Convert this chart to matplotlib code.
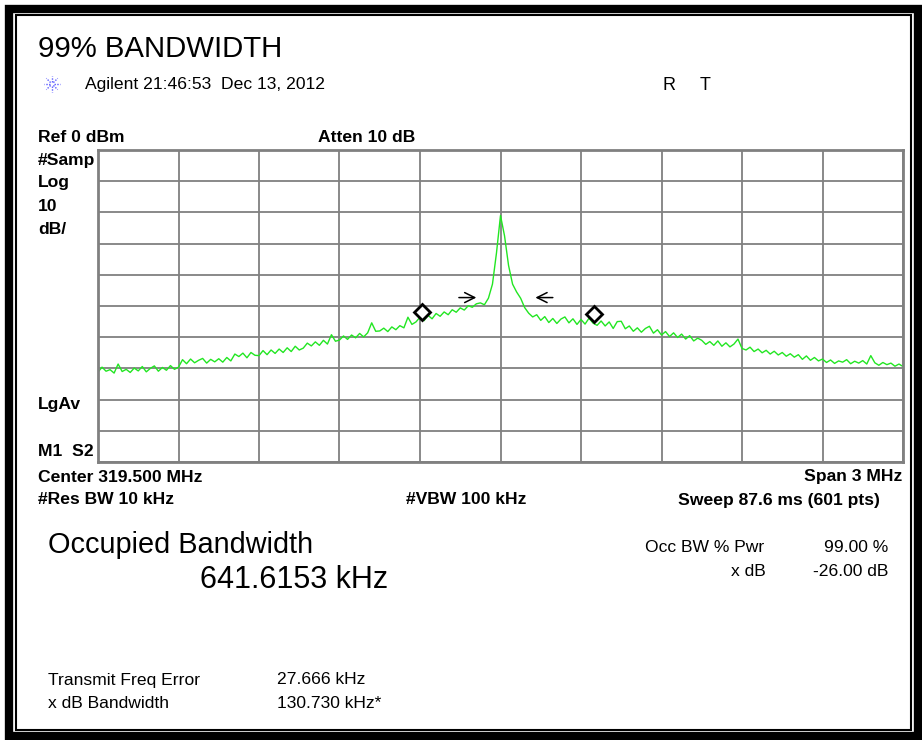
import matplotlib.pyplot as plt
import numpy as np
from matplotlib.patches import Rectangle
from matplotlib.lines import Line2D

# spectrum analyser trace, 201 points (15 kHz apart)
f_start = 318.0   # MHz
f_step = 0.015
level_dbm = [
    -71.2, -69.6, -70.9, -70.4, -71.5, -68.6, -71.0, -70.3, -71.3, -69.9,
    -70.8, -69.4, -71.1, -70.0, -69.2, -70.9, -69.7, -70.6, -69.1, -70.3,
    -69.6, -67.2, -68.5, -67.0, -68.2, -67.4, -66.8, -68.3, -67.1, -67.9,
    -66.9, -68.0, -66.5, -67.6, -65.4, -66.2, -65.1, -66.6, -64.9, -65.8,
    -65.9, -64.3, -65.6, -64.1, -65.2, -63.8, -64.9, -63.4, -64.6, -62.9,
    -64.1, -63.5, -61.9, -62.8, -61.5, -62.6, -61.0, -62.2, -59.2, -61.3,
    -60.9, -59.6, -60.7, -59.3, -60.2, -58.8, -59.9, -58.6, -55.4, -58.1,
    -58.0, -57.1, -58.2, -56.7, -57.6, -56.3, -57.0, -53.6, -55.9, -55.1,
    -53.6, -54.7, -53.0, -54.1, -52.4, -53.3, -51.9, -52.8, -51.2, -52.0,
    -50.6, -51.3, -49.9, -50.4, -49.3, -49.0, -49.6, -47.5, -43.0, -33.0,
    -21.0, -27.5, -37.0, -43.0, -45.5, -47.5, -50.5, -52.3, -53.5, -52.8,
    -54.6, -53.4, -55.3, -54.0, -55.6, -54.2, -53.5, -55.4, -54.1, -55.9,
    -54.3, -55.8, -53.9, -55.5, -56.2, -54.8, -56.4, -55.1, -57.2, -55.0,
    -54.9, -57.3, -56.4, -58.1, -57.0, -58.4, -57.2, -56.5, -58.7, -57.6,
    -59.3, -58.2, -59.8, -58.6, -60.1, -59.0, -60.6, -59.5, -61.2, -60.3,
    -61.0, -62.3, -61.4, -62.6, -61.2, -62.9, -61.8, -63.1, -62.2, -60.6,
    -63.6, -64.1, -63.2, -64.6, -63.8, -65.0, -64.2, -65.4, -64.5, -65.7,
    -64.9, -66.1, -65.3, -66.4, -65.6, -67.1, -66.0, -67.4, -66.5, -67.6,
    -67.0, -68.1, -67.3, -68.4, -67.6, -68.0, -67.2, -68.5, -67.7, -68.3,
    -67.5, -68.6, -65.9, -68.2, -69.0, -68.1, -68.8, -68.3, -69.3, -68.6,
    -69.4,
]
freq_mhz = f_start + f_step * np.arange(len(level_dbm))

# occupied bandwidth markers (diamonds) and x dB arrows
obw_freq = [319.207, 319.848]
obw_level = [-52.0, -52.7]
arrow_level = -47.3
arrow_right = (319.345, 319.410)   # from, tip
arrow_left = (319.695, 319.630)

W, H = 922, 740
fig = plt.figure(figsize=(W / 100, H / 100), dpi=100)
fig.patch.set_facecolor("white")


def fx(x):
    return x / W


def fy(y):
    return 1 - y / H


# double black border
fig.add_artist(Rectangle((fx(9), fy(736)), fx(918) - fx(9), fy(9) - fy(736),
                         transform=fig.transFigure, fill=False, ec="black", lw=6))
fig.add_artist(Rectangle((fx(16), fy(730)), fx(911) - fx(16), fy(15) - fy(730),
                         transform=fig.transFigure, fill=False, ec="black", lw=1.5))

ax = fig.add_axes([fx(98), fy(462), fx(903) - fx(98), fy(150) - fy(462)])
ax.set_xlim(318.0, 321.0)
ax.set_ylim(-100, 0)
ax.set_xticks(np.linspace(318.0, 321.0, 11))
ax.set_yticks(np.arange(-100, 1, 10))
ax.tick_params(length=0, labelbottom=False, labelleft=False)
ax.grid(True, color="#808080", lw=1.3)
for s in ax.spines.values():
    s.set_color("#808080")
    s.set_linewidth(2)

ax.plot(freq_mhz, level_dbm, color="#22e622", lw=1.0)
ax.plot(obw_freq, obw_level, ls="none", marker="D", ms=8, mfc="white",
        mec="black", mew=2)
for a0, a1 in [arrow_right, arrow_left]:
    ax.annotate("", xy=(a1, arrow_level), xytext=(a0, arrow_level),
                arrowprops=dict(arrowstyle="->", color="black", lw=1.1,
                                mutation_scale=18, shrinkA=0, shrinkB=0))

reg = "Liberation Sans"
bold = dict(family="Liberation Sans", weight="bold", size=12.6, va="center")

fig.text(fx(38), fy(49), "99% BANDWIDTH", family=reg, size=21.2, va="center")

# Agilent starburst logo
cx, cy = 52, 84
for a in np.arange(0, 360, 45):
    r = np.radians(a)
    fig.add_artist(Line2D([fx(cx + 2 * np.cos(r)), fx(cx + 8 * np.cos(r))],
                          [fy(cy - 2 * np.sin(r)), fy(cy - 8 * np.sin(r))],
                          transform=fig.transFigure, color="#5a5aff", lw=1,
                          ls=(0, (1, 1))))
fig.text(fx(85), fy(84), "Agilent 21:46:53  Dec 13, 2012", family=reg, size=12.6, va="center")
fig.text(fx(662), fy(85), "R", family=reg, size=13, va="center")
fig.text(fx(700), fy(85), "T", family=reg, size=13, va="center")

fig.text(fx(38), fy(137.5), "Ref 0 dBm", **bold)
fig.text(fx(318), fy(137.5), "Atten 10 dB", **bold)
for lab, y in [("#Samp", 160), ("Log", 183), ("10", 207), ("dB/", 230),
               ("LgAv", 405), ("M1  S2", 452)]:
    fig.text(fx(38), fy(y), lab, **bold)

fig.text(fx(38), fy(477), "Center 319.500 MHz", **bold)
fig.text(fx(902), fy(477), "Span 3 MHz", ha="right", **bold)
fig.text(fx(38), fy(500), "#Res BW 10 kHz", **bold)
fig.text(fx(406), fy(500), "#VBW 100 kHz", **bold)
fig.text(fx(880), fy(500), "Sweep 87.6 ms (601 pts)", ha="right", **bold)

fig.text(fx(48), fy(545), "Occupied Bandwidth", family=reg, size=20.8, va="center")
fig.text(fx(200), fy(580), "641.6153 kHz", family=reg, size=22, va="center")

small = dict(family=reg, size=12.6, va="center")
fig.text(fx(645), fy(547), "Occ BW % Pwr", **small)
fig.text(fx(888), fy(547), "99.00 %", ha="right", **small)
fig.text(fx(766), fy(571), "x dB", ha="right", **small)
fig.text(fx(888), fy(571), "-26.00 dB", ha="right", **small)

fig.text(fx(48), fy(680), "Transmit Freq Error", **small)
fig.text(fx(277), fy(680), "27.666 kHz", **small)
fig.text(fx(48), fy(703), "x dB Bandwidth", **small)
fig.text(fx(277), fy(703), "130.730 kHz*", **small)

fig.savefig("out.png", dpi=100)
